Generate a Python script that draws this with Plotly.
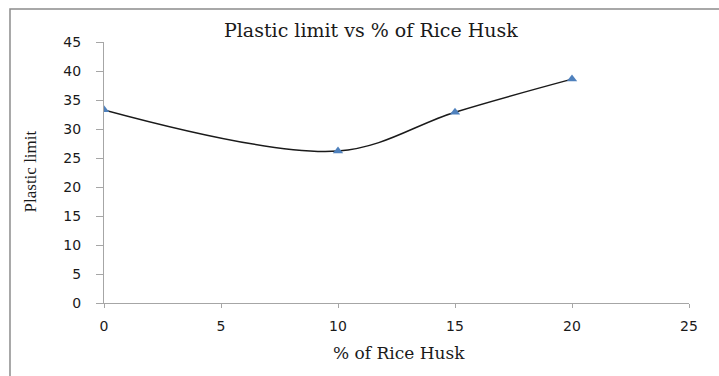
import plotly.graph_objects as go

# Plastic limit measured at each rice husk content
rice_husk_pct = [0, 10, 15, 20]
plastic_limit = [33.3, 26.2, 32.9, 38.6]

x_ticks = [0, 5, 10, 15, 20, 25]
y_ticks = [0, 5, 10, 15, 20, 25, 30, 35, 40, 45]

axis_grey = "#a6a6a6"

fig = go.Figure()
fig.add_trace(go.Scatter(
    x=rice_husk_pct,
    y=plastic_limit,
    mode="lines+markers",
    line=dict(color="#1a1a1a", width=1.5, shape="spline", smoothing=1.0),
    marker=dict(symbol="triangle-up", size=9, color="#4F81BD"),
    showlegend=False,
))

tick_font = dict(family="DejaVu Sans", size=14, color="#1a1a1a")

fig.update_xaxes(
    range=[0, 25], tickvals=x_ticks, ticktext=[str(v) for v in x_ticks],
    showline=True, linecolor=axis_grey, linewidth=1,
    ticks="outside", ticklen=4, tickcolor=axis_grey, ticklabelstandoff=6,
    showgrid=False, zeroline=False, tickfont=tick_font,
)
fig.update_yaxes(
    range=[0, 45], tickvals=y_ticks, ticktext=[str(v) for v in y_ticks],
    showline=True, linecolor=axis_grey, linewidth=1,
    ticks="outside", ticklen=7, tickcolor=axis_grey, ticklabelstandoff=12,
    showgrid=False, zeroline=False, tickfont=tick_font,
)

# Outer chart frame (runs past the right and bottom edges of the page)
fig.add_shape(
    type="rect", xref="paper", yref="paper",
    x0=-0.1607, x1=1.2, y0=-0.4, y1=1.1264,
    line=dict(color="#8c8c8c", width=1.5), fillcolor="rgba(0,0,0,0)",
    layer="below",
)

fig.add_annotation(
    text="Plastic limit vs % of Rice Husk",
    xref="paper", yref="paper", x=0.456, y=1.046,
    xanchor="center", yanchor="middle", showarrow=False,
    font=dict(family="DejaVu Serif", size=19, color="#1a1a1a"),
)
fig.add_annotation(
    text="% of Rice Husk",
    xref="paper", yref="paper", x=0.504, y=-0.1916,
    xanchor="center", yanchor="middle", showarrow=False,
    font=dict(family="DejaVu Serif", size=17, color="#1a1a1a"),
)
fig.add_annotation(
    text="Plastic limit",
    xref="paper", yref="paper", x=-0.1265, y=0.504,
    xanchor="center", yanchor="middle", showarrow=False, textangle=-90,
    font=dict(family="Liberation Serif", size=17, color="#1a1a1a"),
)

fig.update_layout(
    width=719, height=376,
    margin=dict(l=104, r=30, t=42, b=73),
    paper_bgcolor="white", plot_bgcolor="white",
)

fig.write_html("out.html")
